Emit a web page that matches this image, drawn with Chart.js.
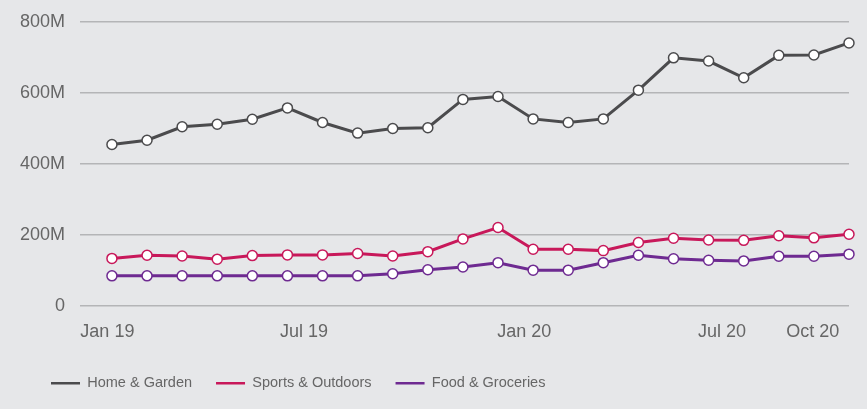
<!DOCTYPE html>
<html>
<head>
<meta charset="utf-8">
<script src="https://cdn.jsdelivr.net/npm/chart.js@4/dist/chart.umd.min.js"></script>
<style>
	html, body { margin: 0; padding: 0; background: #e6e7e9; }
	canvas { display: block; }
</style>
</head>
<body>
<canvas id="lineChart" width="867" height="409"></canvas>
<script>
(function () {
	'use strict';

	// monthly values, millions
	var months = ['Jan 19', 'Feb 19', 'Mar 19', 'Apr 19', 'May 19', 'Jun 19', 'Jul 19', 'Aug 19', 'Sep 19', 'Oct 19', 'Nov 19',
		'Dec 19', 'Jan 20', 'Feb 20', 'Mar 20', 'Apr 20', 'May 20', 'Jun 20', 'Jul 20', 'Aug 20', 'Sep 20', 'Oct 20'];
	var homeGarden = [455, 467, 505, 512, 526, 558, 517, 487, 500, 502, 582, 590, 527, 517, 527, 608, 699, 690, 643, 706, 707, 741];
	var sportsOutdoors = [134, 143, 141, 132, 142, 144, 144, 148, 141, 153, 189, 221, 160, 160, 156, 179, 191, 186, 185, 198, 192, 202];
	var foodGroceries = [85, 85, 85, 85, 85, 85, 85, 85, 91, 102, 110, 122, 101, 101, 122, 143, 133, 129, 127, 140, 140, 146];

	// x tick labels and where they sit (in month steps, as drawn in the source)
	var tickLabels = ['Jan 19', 'Jul 19', 'Jan 20', 'Jul 20', 'Oct 20'];
	var tickMonths = [-0.13, 5.47, 11.75, 17.38, 19.97];
	var yTicks = [0, 200, 400, 600, 800];

	var textColor = '#666666';
	var font = 'Liberation Sans, Arial, Helvetica, sans-serif';

	function points(values) {
		return values.map(function (v, i) {
			return { x: i, y: v };
		});
	}

	function series(label, values, color) {
		return {
			label: label,
			data: points(values),
			borderColor: color,
			backgroundColor: color,
			borderWidth: 3,
			pointRadius: 5,
			pointBorderWidth: 1.5,
			pointBackgroundColor: '#ffffff',
			pointBorderColor: color,
			tension: 0,
			clip: false
		};
	}

	// push the legend row right so it starts under the y labels
	var legendShift = {
		id: 'legendShift',
		afterLayout: function (chart) {
			chart.legend.left += 27;
			chart.legend.right += 27;
		}
	};

	new Chart(document.getElementById('lineChart'), {
		type: 'line',
		data: {
			datasets: [
				series('Home & Garden', homeGarden, '#4b4b4d'),
				series('Sports & Outdoors', sportsOutdoors, '#c8185a'),
				series('Food & Groceries', foodGroceries, '#6e2a91')
			]
		},
		plugins: [legendShift],
		options: {
			responsive: false,
			animation: false,
			layout: {
				padding: { left: 0, right: 18, top: 22, bottom: 8.5 }
			},
			plugins: {
				tooltip: { enabled: false },
				legend: {
					position: 'bottom',
					align: 'start',
					labels: {
						usePointStyle: true,
						pointStyle: 'line',
						pointStyleWidth: 29,
						padding: 24,
						color: textColor,
						font: { family: font, size: 14.5 },
						generateLabels: function (chart) {
							var items = Chart.defaults.plugins.legend.labels.generateLabels(chart);
							items.forEach(function (item, i) {
								item.lineWidth = 2.5;
								item.strokeStyle = chart.data.datasets[i].borderColor;
							});
							return items;
						}
					}
				}
			},
			scales: {
				x: {
					type: 'linear',
					min: -0.91,
					max: 21,
					grid: { display: false, drawTicks: false },
					border: { display: false },
					afterBuildTicks: function (scale) {
						scale.ticks = tickMonths.map(function (v) {
							return { value: v };
						});
					},
					afterFit: function (scale) {
						scale.height = 46;
					},
					ticks: {
						autoSkip: false,
						maxRotation: 0,
						padding: 15,
						color: textColor,
						font: { family: font, size: 18 },
						callback: function (value, index) {
							return tickLabels[index];
						}
					}
				},
				y: {
					min: 0,
					max: 800,
					grid: { color: '#b4b5b7', lineWidth: 1.5, drawTicks: false },
					border: { display: false },
					afterBuildTicks: function (scale) {
						scale.ticks = yTicks.map(function (v) {
							return { value: v };
						});
					},
					afterFit: function (scale) {
						scale.width = 80;
						scale.paddingTop = 0;
						scale.paddingBottom = 0;
					},
					ticks: {
						padding: 15,
						color: textColor,
						font: { family: font, size: 18 },
						callback: function (value) {
							return value === 0 ? '0' : value + 'M';
						}
					}
				}
			}
		}
	});
})();
</script>
</body>
</html>
